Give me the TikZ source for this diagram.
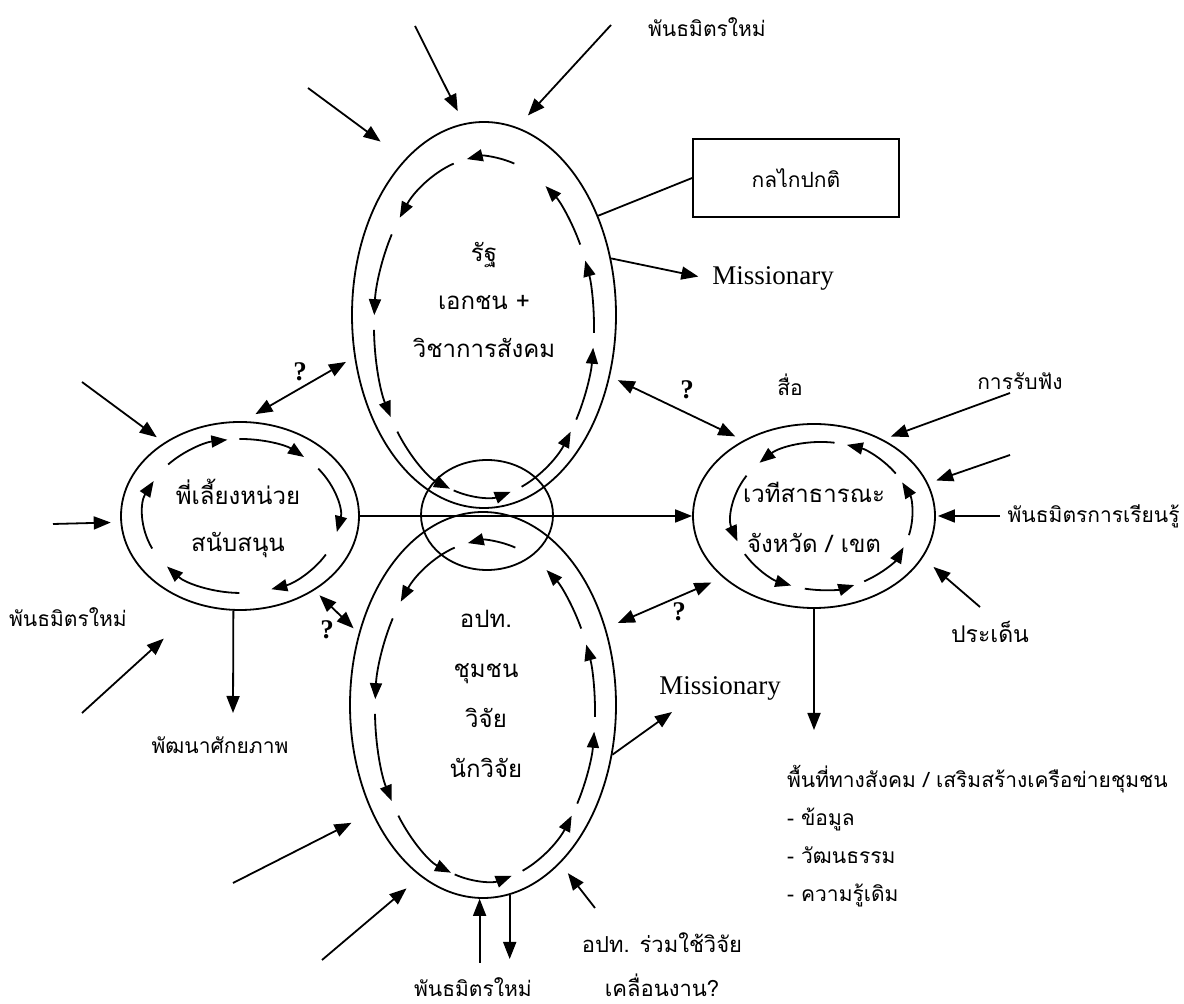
\documentclass[tikz,border=0pt]{standalone}
\usepackage{fontspec}
\setmainfont{Liberation Serif}
\newfontfamily\thaifont[Script=Thai]{Loma}
\usetikzlibrary{arrows.meta,shapes.geometric}

\begin{document}
\begin{tikzpicture}[x=0.5pt,y=-0.5pt,
        arr/.style={-{Triangle[length=8.5pt,width=6.5pt]},line width=0.9pt},
        dbl/.style={{Triangle[length=8.5pt,width=6.5pt]}-{Triangle[length=8.5pt,width=6.5pt]},line width=0.9pt},
        cyc/.style={-{Triangle[length=8pt,width=6pt]},line width=0.9pt},
        oval/.style={ellipse,draw,line width=0.9pt,inner sep=0pt},
        th/.style={font=\thaifont\fontsize{10.5}{#1}\selectfont,align=center},
        th/.default=14,
        thb/.style={font=\thaifont\fontsize{12}{#1}\selectfont,align=center},
        en/.style={font=\fontsize{13.5}{16}\selectfont},
        qm/.style={font=\bfseries\fontsize{13.5}{16}\selectfont}]

        \useasboundingbox (0,0) rectangle (1184,1004);

        % Disegna le ellissi
        \node[oval,minimum width=132pt,minimum height=193pt] (rat) at (484,315) {};
        \node[oval,minimum width=133pt,minimum height=193pt] (opt) at (483,705) {};
        \node[oval,minimum width=66pt,minimum height=55pt] (mid) at (487,515) {};
        \node[oval,minimum width=119pt,minimum height=94pt] (phi) at (240,516) {};
        \node[oval,minimum width=121pt,minimum height=92pt] (wethi) at (814,516) {};

        % Testi nelle ellissi
        \node[thb=24] (ratText) at (484,300) {รัฐ\\เอกชน +\\วิชาการสังคม};
        \node[thb=25] (optText) at (486,694) {อปท.\\ชุมชน\\วิจัย\\นักวิจัย};
        \node[thb=23.5] (phiText) at (238,518) {พี่เลี้ยงหน่วย\\สนับสนุน};
        \node[thb=25] (wethiText) at (814,517) {เวทีสาธารณะ\\จังหวัด / เขต};

        % Frecce cicliche interne
        \foreach \a/\b in {-74/-99,-106/-140,-147/-176,-181/-212,-218/-252,-254/-284,-290/-322,-327/-353,-358/-383,-389/-416}{
            \draw[cyc] ([shift={(\a:110 and 170)}]484,327) arc[start angle=\a,end angle=\b,x radius=110,y radius=170];
            \draw[cyc] ([shift={(\a:110 and 170)}]485,711) arc[start angle=\a,end angle=\b,x radius=110,y radius=170];
        }
        \foreach \a/\b in {-138/-98,-91/-50,-38/12,30/72,91/139,155/207}
            \draw[cyc] ([shift={(\a:98 and 77)}]241,516) arc[start angle=\a,end angle=\b,x radius=98,y radius=77];
        \foreach \a/\b in {149/110,101/69,62/25,15/-27,-35/-74,-82/-134,-147/-200}
            \draw[cyc] ([shift={(\a:90 and 74)}]822,516) arc[start angle=\a,end angle=\b,x radius=90,y radius=74];

        % Frecce verso rat
        \coordinate (n1) at (308,88);
        \coordinate (n2) at (415,26);
        \coordinate (n3) at (611,25);
        \draw[arr,shorten >=15pt] (n1) -- (rat.117.5);
        \draw[arr,shorten >=6.8pt] (n2) -- (rat.96);
        \draw[arr,shorten >=8pt] (n3) -- (rat.80.3);
        \node[th] (topNew) at (707,27) {พันธมิตรใหม่};

        % Box e Missionary
        \node[draw,line width=0.9pt,minimum width=103pt,minimum height=39pt,th] (klai) at (796,178) {กลไกปกติ};
        \draw[line width=0.9pt] (rat.41.8) -- (klai.west);
        \node[en] (miss1) at (773,278) {Missionary};
        \draw[arr,shorten >=3.5pt] (rat.24.2) -- (miss1.west);

        % Frecce verso phi
        \coordinate (w1) at (82,382);
        \coordinate (w2) at (53,524);
        \coordinate (w3) at (82,713);
        \draw[arr,shorten >=4.5pt] (w1) -- (phi.136.2);
        \draw[arr,shorten >=4.8pt] (w2) -- (phi.183.9);
        \draw[arr,shorten >=24.6pt] (w3) -- (phi.246.7);
        \node[th] (leftNew) at (68,617) {พันธมิตรใหม่};
        \node[th] (dev) at (220,745) {พัฒนาศักยภาพ};
        \coordinate (d1) at (233,713);
        \draw[arr] (phi.-94.3) -- (d1);

        % Frecce verso opt
        \coordinate (s1) at (233,883);
        \coordinate (s2) at (322,960);
        \coordinate (s3) at (478,963);
        \coordinate (s4) at (508,959);
        \coordinate (s5) at (595,908);
        \draw[arr,shorten >=11.3pt] (s1) -- (opt.224);
        \draw[arr,shorten >=9.2pt] (s2) -- (opt.250.1);
        \draw[arr] (opt.-91.5 |- s3) -- (opt.-91.5);
        \draw[arr] (opt.-82.5) -- (opt.-82.5 |- s4);
        \draw[arr,shorten >=6.2pt] (s5) -- (opt.-64.3);
        \node[th,anchor=base,inner sep=0pt] (botNew) at (473,997) {พันธมิตรใหม่};
        \node[th=22,font=\thaifont\fontsize{11}{22}\selectfont] (share) at (662,965) {อปท. ร่วมใช้วิจัย\\เคลื่อนงาน?};
        \node[en] (miss2) at (720,688) {Missionary};
        \coordinate (m2) at (672,712);
        \draw[arr] (opt.-21.2) -- (m2);

        % Frecce verso wethi
        \coordinate (e1) at (1010,393);
        \coordinate (e2) at (1010,455);
        \coordinate (e3) at (1000,516);
        \coordinate (e4) at (980,607);
        \draw[arr,shorten >=4.2pt] (e1) -- (wethi.48.2);
        \draw[arr,shorten >=4.3pt] (e2) -- (wethi.16.3);
        \draw[arr,shorten >=1pt] (e3) -- (wethi.east);
        \draw[arr,shorten >=7pt] (e4) -- (wethi.-21.9);
        \node[th] (suea) at (790,385) {สื่อ};
        \node[th] (listen) at (1020,381) {การรับฟัง};
        \node[th,anchor=east,inner xsep=1pt] (learn) at (1182,516) {พันธมิตรการเรียนรู้};
        \node[th,font=\thaifont\fontsize{11.5}{14}\selectfont] (issue) at (990,632) {ประเด็น};
        \coordinate (d2) at (814,730);
        \draw[arr] (wethi.south) -- (d2);
        \node[th=19,align=left,anchor=north west] (space) at (780,758) {พื้นที่ทางสังคม / เสริมสร้างเครือข่ายชุมชน\\- ข้อมูล\\- วัฒนธรรม\\- ความรู้เดิม};

        % Frecce doppie con punto interrogativo
        \draw[dbl,shorten <=7pt,shorten >=4.8pt] (phi.88.2) -- (rat.198.6);
        \draw[dbl,shorten <=3.5pt,shorten >=3.5pt] (phi.-45.4) -- (opt.150.6);
        \draw[dbl,shorten <=4.3pt,shorten >=4.5pt] (rat.-26) -- (wethi.133);
        \draw[dbl,shorten <=6.5pt,shorten >=6.2pt] (opt.32.6) -- (wethi.214.1);
        \node[qm] (q1) at (300,372) {?};
        \node[qm] (q2) at (327,630) {?};
        \node[qm] (q3) at (687,390) {?};
        \node[qm] (q4) at (679,612) {?};

        % Linea orizzontale
        \draw[arr] (phi.east) -- (wethi.west);

    \end{tikzpicture}
\end{document}
